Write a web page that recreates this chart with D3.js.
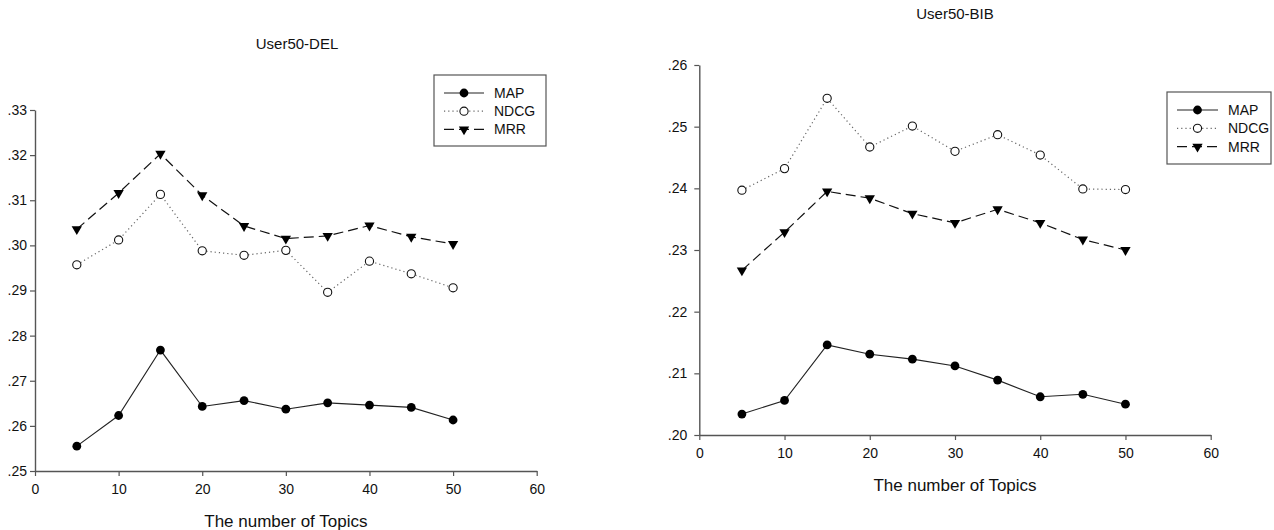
<!DOCTYPE html>
<html>
<head>
<meta charset="utf-8">
<script src="https://cdn.jsdelivr.net/npm/d3@7"></script>
<style>
  html, body { margin: 0; padding: 0; background: #fff; }
  svg { display: block; font-family: "Liberation Sans", Arial, sans-serif; }
</style>
</head>
<body>
<svg id="chart" width="1274" height="530"></svg>
<script>
// ---- data ----
const topics = [5, 10, 15, 20, 25, 30, 35, 40, 45, 50];
const xTicks = [0, 10, 20, 30, 40, 50, 60];
const seriesNames = ["MAP", "NDCG", "MRR"];

const delMAP  = [0.2555, 0.2623, 0.2768, 0.2643, 0.2656, 0.2637, 0.2651, 0.2646, 0.2641, 0.2613];
const delNDCG = [0.2957, 0.3012, 0.3113, 0.2988, 0.2978, 0.2989, 0.2896, 0.2965, 0.2937, 0.2906];
const delMRR  = [0.3036, 0.3116, 0.3203, 0.3111, 0.3043, 0.3015, 0.3021, 0.3044, 0.3019, 0.3003];
const delYTicks = [0.25, 0.26, 0.27, 0.28, 0.29, 0.30, 0.31, 0.32, 0.33];

const bibMAP  = [0.2034, 0.2056, 0.2146, 0.2131, 0.2123, 0.2112, 0.2089, 0.2062, 0.2066, 0.2050];
const bibNDCG = [0.2397, 0.2432, 0.2546, 0.2467, 0.2501, 0.2460, 0.2487, 0.2454, 0.2399, 0.2398];
const bibMRR  = [0.2267, 0.2329, 0.2395, 0.2384, 0.2359, 0.2344, 0.2366, 0.2344, 0.2317, 0.2300];
const bibYTicks = [0.20, 0.21, 0.22, 0.23, 0.24, 0.25, 0.26];

const svg = d3.select("#chart");
const axisColor = "#555";
const fmtY = d => d.toFixed(2).replace(/^0/, "");

const styles = {
  MAP:  { dash: null,  stroke: "#222", width: 1.1 },
  NDCG: { dash: "1.2,3", stroke: "#666", width: 1.2 },
  MRR:  { dash: "10,5", stroke: "#111", width: 1.2 }
};

function drawMarker(g, name, x, y) {
  if (name === "MAP") {
    g.append("circle").attr("cx", x).attr("cy", y).attr("r", 4.4).attr("fill", "#000");
  } else if (name === "NDCG") {
    g.append("circle").attr("cx", x).attr("cy", y).attr("r", 4.1)
      .attr("fill", "#fff").attr("stroke", "#111").attr("stroke-width", 1.1);
  } else {
    g.append("path").attr("d", d3.symbol(d3.symbolTriangle, 46)())
      .attr("transform", `translate(${x},${y}) rotate(180)`).attr("fill", "#000");
  }
}

function drawPanel(cfg) {
  const x = d3.scaleLinear().domain([0, 60]).range([cfg.x0, cfg.x1]);
  const y = d3.scaleLinear().domain(cfg.yDomain).range([cfg.yBottom, cfg.yTop]);
  const g = svg.append("g");

  // axes
  const xa = g.append("g").attr("transform", `translate(0,${cfg.yBottom})`)
    .call(d3.axisBottom(x).tickValues(xTicks).tickSize(5).tickPadding(8).tickSizeOuter(0));
  const ya = g.append("g").attr("transform", `translate(${cfg.x0},0)`)
    .call(d3.axisLeft(y).tickValues(cfg.yTicks).tickFormat(fmtY).tickSize(5).tickPadding(cfg.yPad).tickSizeOuter(0));
  [xa, ya].forEach(a => {
    a.select(".domain").attr("stroke", axisColor).attr("stroke-width", 1.4);
    a.selectAll(".tick line").attr("stroke", axisColor).attr("stroke-width", 1.2);
    a.selectAll("text").attr("fill", "#111").style("font-size", "14px");
  });

  // lines & markers
  cfg.series.forEach((vals, i) => {
    const name = seriesNames[i];
    const st = styles[name];
    const line = d3.line().x((d, j) => x(topics[j])).y(d => y(d));
    g.append("path").datum(vals).attr("d", line).attr("fill", "none")
      .attr("stroke", st.stroke).attr("stroke-width", st.width)
      .attr("stroke-dasharray", st.dash);
    vals.forEach((v, j) => drawMarker(g, name, x(topics[j]), y(v)));
  });

  // titles
  const cx = (cfg.x0 + cfg.x1) / 2;
  g.append("text").attr("x", cfg.titleX).attr("y", cfg.titleY).attr("text-anchor", "middle")
    .attr("dominant-baseline", "central").style("font-size", "15px").attr("fill", "#111").text(cfg.title);
  g.append("text").attr("x", cx).attr("y", cfg.xTitleY).attr("text-anchor", "middle")
    .attr("dominant-baseline", "central").style("font-size", "17px").attr("fill", "#111").text("The number of Topics");

  // legend
  const L = cfg.legend;
  g.append("rect").attr("x", L.x).attr("y", L.y).attr("width", L.w).attr("height", L.h)
    .attr("fill", "#fff").attr("stroke", axisColor).attr("stroke-width", 1.2);
  seriesNames.forEach((name, i) => {
    const ly = L.y + L.first + i * L.step;
    const st = styles[name];
    g.append("line").attr("x1", L.x + L.lx1).attr("x2", L.x + L.lx2).attr("y1", ly).attr("y2", ly)
      .attr("stroke", st.stroke).attr("stroke-width", st.width).attr("stroke-dasharray", st.dash);
    drawMarker(g, name, L.x + (L.lx1 + L.lx2) / 2, ly);
    g.append("text").attr("x", L.x + L.tx).attr("y", ly).attr("dominant-baseline", "central")
      .style("font-size", "14px").attr("fill", "#111").text(name);
  });
}

drawPanel({
  x0: 35, x1: 536.7, yTop: 110, yBottom: 471, yDomain: [0.25, 0.33], yTicks: delYTicks, yPad: 3,
  series: [delMAP, delNDCG, delMRR], title: "User50-DEL", titleX: 297, titleY: 43, xTitleY: 521.7,
  legend: { x: 434, y: 75, w: 112, h: 71, first: 18, step: 18.2, lx1: 10, lx2: 50, tx: 60 }
});

drawPanel({
  x0: 699.3, x1: 1210.7, yTop: 65, yBottom: 435, yDomain: [0.20, 0.26], yTicks: bibYTicks, yPad: 7,
  series: [bibMAP, bibNDCG, bibMRR], title: "User50-BIB", titleX: 955, titleY: 13, xTitleY: 485.7,
  legend: { x: 1167, y: 92, w: 104, h: 72, first: 18, step: 18.3, lx1: 10, lx2: 51, tx: 61 }
});
</script>
</body>
</html>
